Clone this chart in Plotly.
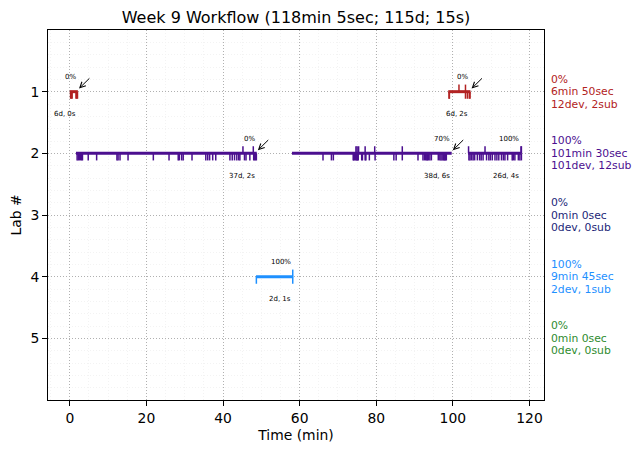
import plotly.graph_objects as go

# ---------------- data ----------------
labs = [1, 2, 3, 4, 5]
lab_colors = ["#b22222", "#4b0f8f", "#1c1f78", "#1e90ff", "#2e8b2e"]

# segments per lab: start/end (min), percentage and counts label
seg_lab = [1, 1, 2, 2, 2, 4]
seg_start = [0.0, 98.8, 1.6, 58.0, 104.0, 48.6]
seg_end = [2.1, 104.6, 48.8, 99.7, 117.9, 58.3]
seg_pct = ["0%", "0%", "0%", "70%", "100%", "100%"]
seg_counts = ["6d, 0s", "6d, 2s", "37d, 2s", "38d, 6s", "26d, 4s", "2d, 1s"]

# dev events (ticks below line) and submissions (ticks above line)
lab1_devs = [0.2, 0.4, 0.6, 1.6, 1.8, 2.0, 99.0, 99.1, 103.3, 103.8, 104.3, 104.5]
lab1_subs = [101.6, 103.3]
lab2_devs = [1.9, 2.2, 2.5, 2.8, 3.1, 3.3, 4.8, 7.0, 12.3, 12.6, 13.1, 15.2, 21.8,
             25.9, 28.3, 28.6, 29.2, 29.6, 31.9, 35.5, 36.0, 36.5, 37.3, 38.1,
             41.8, 42.4, 43.0, 43.6, 44.1, 44.4, 45.6, 46.0, 47.0, 48.0, 48.2,
             48.5, 48.7,
             66.1, 68.3, 68.8, 74.0, 74.1, 74.3, 74.6, 74.8, 75.0, 75.1, 75.3,
             76.2, 76.4, 77.1, 77.3, 78.2, 79.7, 84.6, 85.2, 86.8, 90.9, 92.2,
             92.6, 92.9, 93.2, 93.4, 93.6, 94.0, 94.4, 96.2, 96.6, 96.9, 97.2,
             97.5, 97.7, 97.9, 98.1, 98.3,
             104.2, 104.5, 104.9, 105.3, 105.7, 106.4, 107.0, 107.4, 107.9,
             108.8, 109.4, 109.8, 110.3, 111.0, 111.5, 112.0, 112.7, 113.2,
             113.6, 114.3, 115.5, 115.8, 116.2, 117.1, 117.5, 117.9]
lab2_subs = [45.2, 47.9, 74.7, 75.0, 75.4, 77.1, 79.6, 86.8,
             104.1, 108.4, 117.8, 117.9]
lab3_devs, lab3_subs = [], []
lab4_devs = [48.7, 58.2]
lab4_subs = [58.2]
lab5_devs, lab5_subs = [], []
devs = [lab1_devs, lab2_devs, lab3_devs, lab4_devs, lab5_devs]
subs = [lab1_subs, lab2_subs, lab3_subs, lab4_subs, lab5_subs]

# right-side summaries
sum_pct = ["0%", "100%", "0%", "100%", "0%"]
sum_time = ["6min 50sec", "101min 30sec", "0min 0sec", "9min 45sec", "0min 0sec"]
sum_counts = ["12dev, 2sub", "101dev, 12sub", "0dev, 0sub", "2dev, 1sub", "0dev, 0sub"]

x_ticks = [0, 20, 40, 60, 80, 100, 120]
title = "Week 9 Workflow (118min 5sec; 115d; 15s)"

# ---------------- figure ----------------
FONT = "DejaVu Sans"
TICK = 0.115
fig = go.Figure()

for i, lab in enumerate(labs):
    col = lab_colors[i]
    tx, ty = [], []
    for t in devs[i]:
        tx += [t, t, None]
        ty += [lab, lab + TICK, None]
    for t in subs[i]:
        tx += [t, t, None]
        ty += [lab - TICK, lab, None]
    if tx:
        fig.add_trace(go.Scatter(x=tx, y=ty, mode="lines",
                                 line=dict(color=col, width=1.5),
                                 hoverinfo="skip", showlegend=False))
    sx, sy = [], []
    for s, e, l in zip(seg_start, seg_end, seg_lab):
        if l == lab:
            sx += [s, e, None]
            sy += [lab, lab, None]
    if sx:
        fig.add_trace(go.Scatter(x=sx, y=sy, mode="lines",
                                 line=dict(color=col, width=3),
                                 hoverinfo="skip", showlegend=False))

annotations = []
for s, e, l, p, c in zip(seg_start, seg_end, seg_lab, seg_pct, seg_counts):
    annotations.append(dict(x=e, y=l - 0.24, text=p, showarrow=False,
                            xanchor="right", yanchor="middle",
                            font=dict(family=FONT, size=7, color="black")))
    annotations.append(dict(x=e, y=l + 0.37, text=c, showarrow=False,
                            xanchor="right", yanchor="middle",
                            font=dict(family=FONT, size=7, color="black")))
    if p != "100%":
        annotations.append(dict(x=e + 0.3, y=l - 0.05, ax=e + 3.4, ay=l - 0.24,
                                axref="x", ayref="y", text="", showarrow=True,
                                arrowhead=5, arrowsize=1.1, arrowwidth=1,
                                arrowcolor="black", standoff=0, startstandoff=0))

for i, lab in enumerate(labs):
    for txt, sh in zip([sum_pct[i], sum_time[i], sum_counts[i]], [12.5, 0, -12.5]):
        annotations.append(dict(x=1.01, xref="paper", y=lab, yref="y", yshift=sh,
                                text=txt, showarrow=False, xanchor="left",
                                yanchor="middle", align="left",
                                font=dict(family=FONT, size=10.8, color=lab_colors[i])))

fig.update_layout(
    width=641, height=453,
    margin=dict(l=40, r=105, t=22, b=61, autoexpand=False),
    paper_bgcolor="white", plot_bgcolor="white",
    font=dict(family=FONT, size=13.9, color="black"),
    title=dict(text=title, x=(40 + 248) / 641, xref="container", xanchor="center",
               y=1 - 9.5 / 453, yanchor="middle",
               font=dict(family=FONT, size=16, color="black")),
    annotations=annotations,
    showlegend=False,
)
GRID_DASH = "1px,2px"
fig.update_xaxes(
    automargin=False,
    range=[-5.7, 123.8], tickvals=x_ticks, ticks="outside", ticklen=5,
    tickcolor="black", ticklabelstandoff=0,
    showline=True, mirror=True, linecolor="black", linewidth=1,
    showgrid=True, gridcolor="#b0b0b0", griddash=GRID_DASH, gridwidth=1,
    zeroline=False,
    minor=dict(dtick=5, tick0=0, showgrid=True, gridcolor="#f3f3f3", gridwidth=0.6),
    title=dict(text="Time (min)", font=dict(family=FONT, size=13.9), standoff=5),
)
fig.update_yaxes(
    automargin=False,
    range=[6, 0], tickvals=labs, ticks="outside", ticklen=5,
    tickcolor="black",
    showline=True, mirror=True, linecolor="black", linewidth=1,
    showgrid=True, gridcolor="#b0b0b0", griddash=GRID_DASH, gridwidth=1,
    zeroline=False,
    minor=dict(dtick=0.2, tick0=0, showgrid=True, gridcolor="#f3f3f3", gridwidth=0.6),
    title=dict(text="Lab #", font=dict(family=FONT, size=13.9), standoff=6),
)

fig.write_html("out.html")
